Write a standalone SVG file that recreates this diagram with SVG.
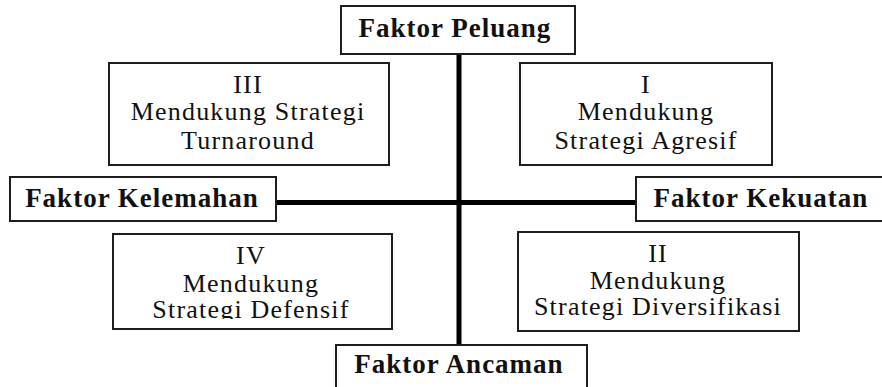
<svg xmlns="http://www.w3.org/2000/svg" width="882" height="387" viewBox="0 0 882 387">
<style>
.box{fill:#fff;stroke:#1e1e1e;stroke-width:2}
.lbl{font-family:"Liberation Serif","Times New Roman",serif;font-weight:bold;font-size:27px;letter-spacing:1px;fill:#111;text-anchor:middle}
.q{font-family:"Liberation Serif","Times New Roman",serif;font-size:26px;letter-spacing:1.2px;fill:#111;text-anchor:middle}
.ax{stroke:#000;stroke-width:5;fill:none}
</style>
<defs>
<clipPath id="clipIV"><rect x="114" y="235" width="277" height="84"/></clipPath>
</defs>
<rect width="882" height="387" fill="#fff"/>
<g id="connectors">
<line class="ax" x1="459" y1="54" x2="459" y2="345"/>
<line class="ax" x1="276" y1="202.5" x2="636" y2="202.5"/>
</g>
<g id="peluang">
<rect class="box" x="341" y="6" width="234" height="48"/>
<text class="lbl" x="455" y="37">Faktor Peluang</text>
</g>
<g id="kelemahan">
<rect class="box" x="10" y="177" width="266" height="44"/>
<text class="lbl" x="142" y="207">Faktor Kelemahan</text>
</g>
<g id="kekuatan">
<rect class="box" x="636" y="177" width="260" height="44"/>
<text class="lbl" x="761" y="207">Faktor Kekuatan</text>
</g>
<g id="ancaman">
<rect class="box" x="336" y="345" width="251" height="50"/>
<text class="lbl" x="459" y="373">Faktor Ancaman</text>
</g>
<g id="q3">
<rect class="box" x="109" y="63" width="280" height="102"/>
<text class="q" x="248" y="93">III</text>
<text class="q" x="248" y="120">Mendukung Strategi</text>
<text class="q" x="248" y="149">Turnaround</text>
</g>
<g id="q1">
<rect class="box" x="520" y="63" width="252" height="102"/>
<text class="q" x="646" y="93">I</text>
<text class="q" x="646" y="120">Mendukung</text>
<text class="q" x="646" y="149">Strategi Agresif</text>
</g>
<g id="q4">
<rect class="box" x="113" y="234" width="279" height="95"/>
<g clip-path="url(#clipIV)">
<text class="q" x="251" y="264">IV</text>
<text class="q" x="251" y="292">Mendukung</text>
<text class="q" x="251" y="318">Strategi Defensif</text>
</g>
</g>
<g id="q2">
<rect class="box" x="518" y="232" width="281" height="99"/>
<text class="q" x="658" y="262">II</text>
<text class="q" x="658" y="289">Mendukung</text>
<text class="q" x="658" y="315">Strategi Diversifikasi</text>
</g>
</svg>
